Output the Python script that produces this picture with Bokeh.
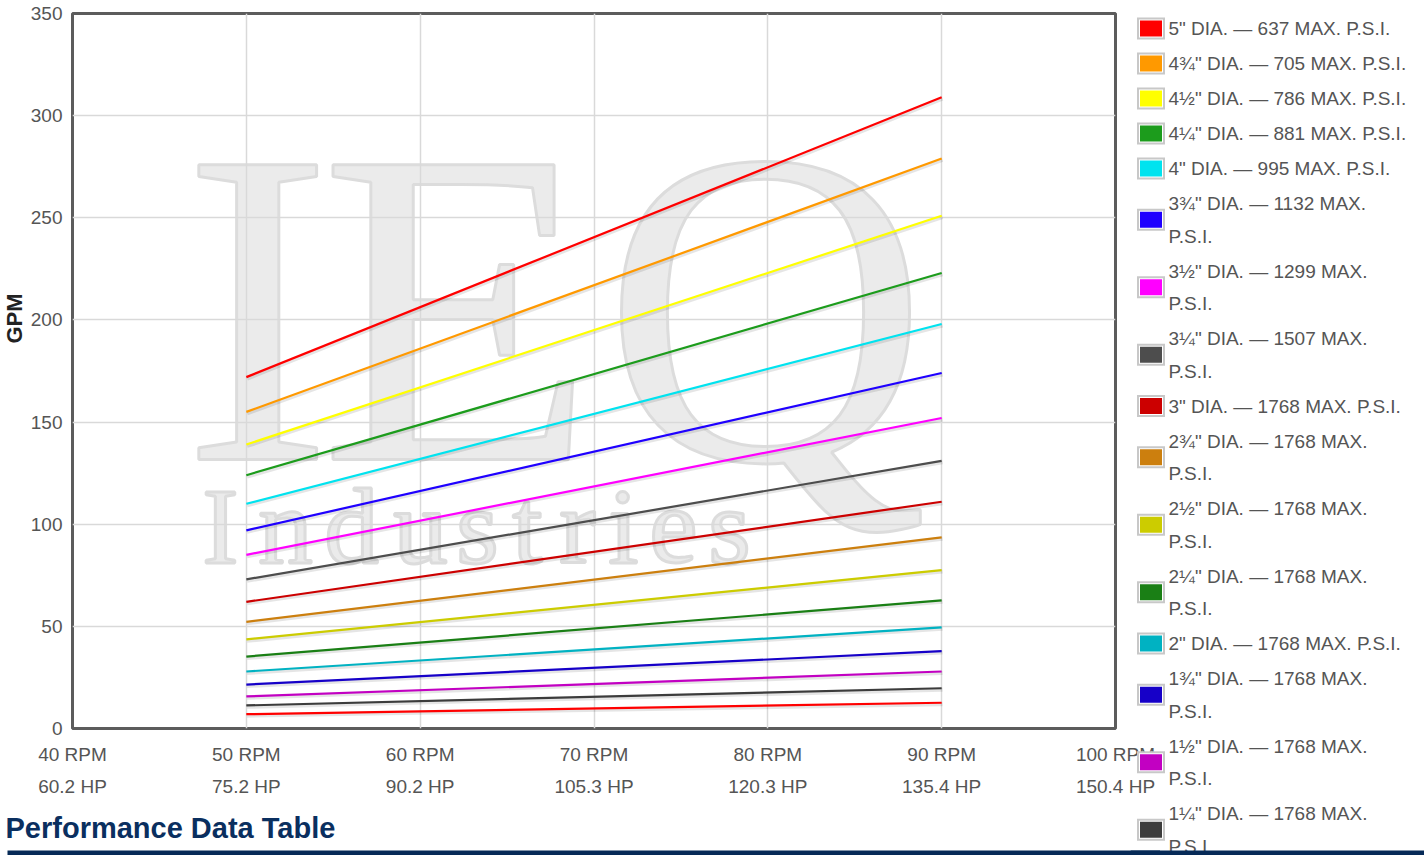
import math
from bokeh.plotting import figure
from bokeh.models import (Range1d, FixedTicker, LinearAxis, Label, Title,
                          ColumnDataSource)
from bokeh.core.properties import value
from bokeh.layouts import column, row
from bokeh.embed import file_html
from bokeh.resources import INLINE

# ---------------- data ----------------
diameters = ['5"', '4¾"', '4½"', '4¼"', '4"', '3¾"', '3½"', '3¼"', '3"',
             '2¾"', '2½"', '2¼"', '2"', '1¾"', '1½"', '1¼"', '1"']
max_psi = [637, 705, 786, 881, 995, 1132, 1299, 1507, 1768,
           1768, 1768, 1768, 1768, 1768, 1768, 1768, 1768]
colors = ["#ff0000", "#ff9900", "#ffff00", "#1c9c1c", "#00e3ef", "#1f00ff",
          "#ff00ff", "#4d4d4d", "#cc0000", "#cc7f0e", "#cccc00", "#1a7f15",
          "#00b2c2", "#1600c8", "#c200c2", "#3c3c3c", "#ff0000"]
rpm_points = [50, 90]
gpm_at_50 = [172, 155, 139, 124, 110, 97, 85, 73, 62, 52.2, 43.6, 35.2,
             27.9, 21.5, 15.7, 11.3, 7.0]
gpm_at_90 = [309, 279, 251, 223, 198, 174, 152, 131, 111, 93.6, 77.5, 62.7,
             49.5, 37.9, 27.9, 19.7, 12.6]
rpm_ticks = [40, 50, 60, 70, 80, 90, 100]
hp_labels = ["60.2 HP", "75.2 HP", "90.2 HP", "105.3 HP", "120.3 HP",
             "135.4 HP", "150.4 HP"]
gpm_ticks = [0, 50, 100, 150, 200, 250, 300, 350]
heading = "Performance Data Table"

FONT = "Liberation Sans"
SERIF = "Liberation Serif"
TICK_COLOR = "#555555"
NAVY = "#0a2f5f"
BAR = "#062a57"
PAGE_H = 855
MAIN_W = 1160
CHART_H = 800

# ---------------- main chart ----------------
p = figure(width=MAIN_W, height=CHART_H, output_backend="svg", toolbar_location=None,
           x_range=Range1d(40, 100), y_range=Range1d(0, 350),
           min_border_left=70, min_border_right=45, min_border_top=13,
           min_border_bottom=72, frame_align=False)
p.outline_line_color = "#5c5c5c"
p.outline_line_width = 3
p.background_fill_color = "white"
p.border_fill_color = "white"

p.xgrid.ticker = FixedTicker(ticks=rpm_ticks)
p.ygrid.ticker = FixedTicker(ticks=gpm_ticks)
p.grid.grid_line_color = "#d9d9d9"
p.grid.grid_line_width = 1.5

ya = p.yaxis[0]
ya.ticker = FixedTicker(ticks=gpm_ticks)
ya.axis_line_color = None
ya.major_tick_line_color = None
ya.major_tick_out = 0
ya.minor_tick_line_color = None
ya.minor_tick_out = 0
ya.major_label_standoff = 10
ya.major_label_text_font = FONT
ya.major_label_text_font_size = "19px"
ya.major_label_text_color = TICK_COLOR

xa = p.xaxis[0]
xa.ticker = FixedTicker(ticks=rpm_ticks)
xa.major_label_overrides = {t: f"{t} RPM" for t in rpm_ticks}
xa2 = LinearAxis(ticker=FixedTicker(ticks=rpm_ticks),
                 major_label_overrides={t: h for t, h in zip(rpm_ticks, hp_labels)})
p.add_layout(xa2, "below")
for ax, st in ((xa, 15), (xa2, 8)):
    ax.axis_line_color = None
    ax.major_tick_line_color = None
    ax.major_tick_out = 0
    ax.minor_tick_line_color = None
    ax.minor_tick_out = 0
    ax.major_label_standoff = st
    ax.major_label_text_font = FONT
    ax.major_label_text_font_size = "19px"
    ax.major_label_text_color = TICK_COLOR

p.add_layout(Title(text="GPM", align="right", offset=280, standoff=0,
                   vertical_align="middle", text_font=FONT,
                   text_font_size="22px", text_font_style="bold",
                   text_color="#222222"), "left")

# watermark (behind grid)
wm_fill = "#ebebeb"
wm_big = [("I", 185), ("E", 385), ("Q", 693)]
for ch, xx in wm_big:
    p.add_layout(Label(x=xx, y=421, x_units="screen", y_units="screen", text=ch,
                       text_font=SERIF, text_font_size="450px", text_color=wm_fill,
                       text_outline_color="#dcdcdc",
                       text_align="center", text_baseline="alphabetic",
                       level="image"))
wm_small = [("I", 148), ("n", 213), ("d", 279), ("u", 348), ("s", 405),
            ("t", 455), ("r", 505), ("i", 551), ("e", 601), ("s", 657)]
for ch, xx in wm_small:
    p.add_layout(Label(x=xx, y=202, x_units="screen", y_units="screen", text=ch,
                       text_font=SERIF, text_font_size="109px", text_color=wm_fill,
                       text_outline_color="#dcdcdc",
                       text_align="center", text_baseline="alphabetic",
                       level="image"))

# lines with soft shadows
for i in range(len(diameters)):
    ys = [gpm_at_50[i], gpm_at_90[i]]
    p.line([r + 0.05 for r in rpm_points], [y - 0.7 for y in ys],
           line_color="black", line_alpha=0.1, line_width=4)
for i in range(len(diameters)):
    ys = [gpm_at_50[i], gpm_at_90[i]]
    p.line(rpm_points, ys, line_color=colors[i], line_width=2.2)

# ---------------- heading strip (with the navy rule) ----------------
HF_H = PAGE_H - CHART_H
hf = figure(width=MAIN_W, height=HF_H, output_backend="svg", toolbar_location=None,
            x_range=Range1d(0, MAIN_W), y_range=Range1d(HF_H, 0),
            x_axis_location=None, y_axis_location=None, min_border=0,
            outline_line_color=None, frame_align=False)
hf.grid.visible = False
hf.text(x=[5], y=[27], text=[heading], text_font=value(FONT),
        text_font_size=value("29px"), text_font_style="bold",
        text_color=NAVY, text_align="left", text_baseline="middle")
hf.quad(left=[7], right=[MAIN_W], top=[HF_H - 5], bottom=[HF_H],
        fill_color=BAR, line_color=None)

# ---------------- legend figure (overlaps the main figure's right edge) ----------------
LEG_W = 294
OVERLAP = 30
lg = figure(width=LEG_W, height=PAGE_H, output_backend="svg", toolbar_location=None,
            x_range=Range1d(0, LEG_W), y_range=Range1d(PAGE_H, 0),
            x_axis_location=None, y_axis_location=None, min_border=0,
            outline_line_color=None, background_fill_alpha=0, border_fill_alpha=0,
            margin=(0, 0, 0, -OVERLAP), frame_align=False)
lg.grid.visible = False

LINE_PITCH = 32.5
sw_rows = dict(l=[], r=[], t=[], b=[], color=[])
txt_rows = dict(x=[], y=[], text=[])
y_top = 10.5
for d, psi, c in zip(diameters, max_psi, colors):
    full = f"{d} DIA. — {psi} MAX. P.S.I."
    lines = [full] if len(full) < 27 else [f"{d} DIA. — {psi} MAX.", "P.S.I."]
    h = 2.5 + LINE_PITCH * len(lines)
    cy = y_top + h / 2
    sw_rows["l"].append(6.5); sw_rows["r"].append(34.5)
    sw_rows["t"].append(cy - 11); sw_rows["b"].append(cy + 11)
    sw_rows["color"].append(c)
    for k, ln in enumerate(lines):
        txt_rows["x"].append(38)
        txt_rows["y"].append(cy + (k - (len(lines) - 1) / 2) * LINE_PITCH)
        txt_rows["text"].append(ln)
    y_top += h

sw_src = ColumnDataSource(sw_rows)
lg.quad(left="l", right="r", top="t", bottom="b", source=sw_src,
        fill_color="#c8c8c8", line_color=None)
lg.quad(left=[v + 2 for v in sw_rows["l"]], right=[v - 2 for v in sw_rows["r"]],
        top=[v + 2 for v in sw_rows["t"]], bottom=[v - 2 for v in sw_rows["b"]],
        fill_color="white", line_color=None)
lg.quad(left=[v + 3 for v in sw_rows["l"]], right=[v - 3 for v in sw_rows["r"]],
        top=[v + 3 for v in sw_rows["t"]], bottom=[v - 3 for v in sw_rows["b"]],
        fill_color=sw_rows["color"], line_color=None)
lg.text(x="x", y="y", text="text", source=ColumnDataSource(txt_rows),
        text_font=value(FONT), text_font_size=value("19px"),
        text_color=TICK_COLOR, text_align="left", text_baseline="middle")
# navy rule continues under the legend
lg.quad(left=[0], right=[LEG_W], top=[PAGE_H - 5], bottom=[PAGE_H],
        fill_color=BAR, line_color=None)

layout = row(column(p, hf, spacing=0), lg, spacing=0)
open("out.html", "w").write(file_html(layout, INLINE))
